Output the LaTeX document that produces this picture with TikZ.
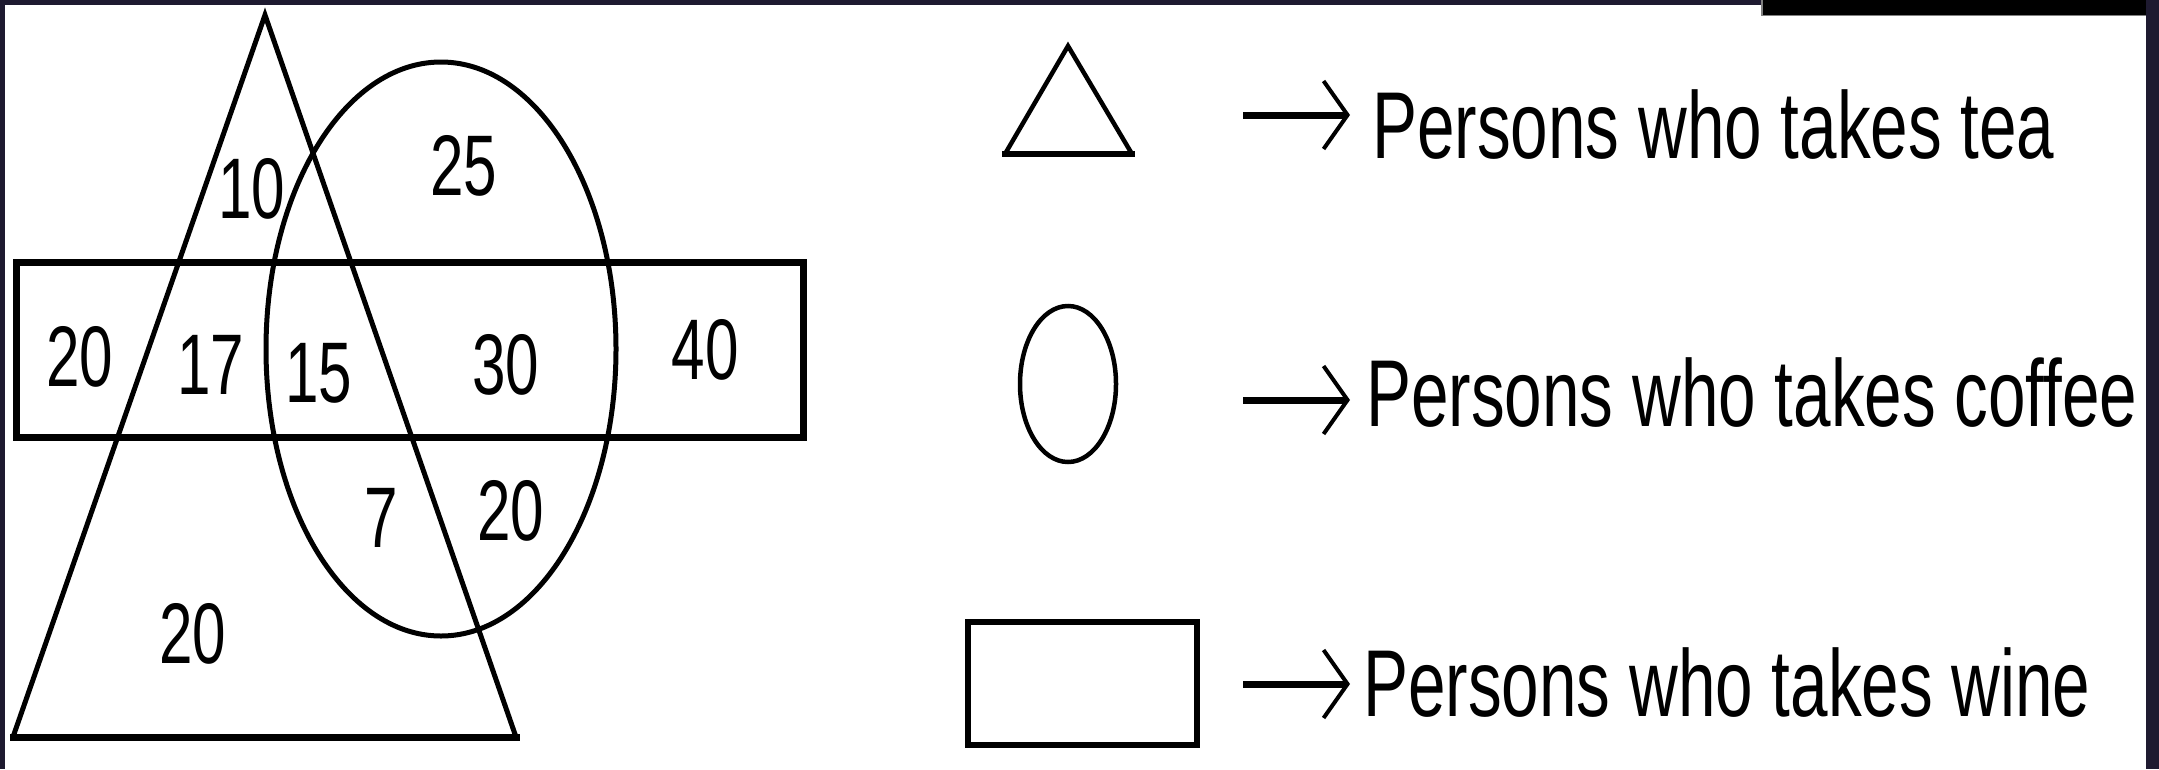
\documentclass[tikz,border=0pt]{standalone}
\usepackage{fontspec}
\setmainfont{Liberation Sans}
\usetikzlibrary{arrows.meta}
\definecolor{navy}{RGB}{30,26,48}
\tikzset{
  thinline/.style={line width=5pt, draw=black},
  thickline/.style={line width=7pt, draw=black},
  num/.style={inner sep=0pt, anchor=center, font=\fontsize{86}{90}\selectfont},
  legtext/.style={inner sep=0pt, anchor=base west, font=\fontsize{95}{100}\selectfont},
  legarrow/.style={line width=7pt, -{Straight Barb[length=24pt,width=68pt,line width=4pt]}},
}
\newcommand{\cond}[1]{\scalebox{0.7}[1]{#1}}
\newcommand{\condt}[1]{\scalebox{0.71}[1]{#1}}
\begin{document}
\begin{tikzpicture}[x=1pt,y=-1pt]
\useasboundingbox (0,0) rectangle (2159,769);
\fill[white] (0,0) rectangle (2159,769);
% frame
\fill[navy] (0,0) rectangle (2159,5);
\fill[navy] (0,0) rectangle (5,769);
\fill[navy] (2146,0) rectangle (2159,769);
\fill[black] (1762,0) rectangle (2146,15);
\draw[gray, line width=1.2pt] (1762,0) -- (1762,15.5) -- (2146,15.5);

% main diagram
\coordinate (tA) at (265,15);
\coordinate (tL) at (13,737);
\coordinate (tR) at (516,737);
\draw[thinline, line join=miter] (tL) -- (tA) -- (tR);
\draw[thickline, line cap=rect] (tL) -- (tR);
\draw[thinline] (441,349) ellipse [x radius=175, y radius=287];
\draw[thickline] (16.5,262) rectangle (803,437.5);

\node[num] (n10) at (252,189) {\cond{10}};
\node[num] (n25) at (464,166) {\cond{25}};
\node[num] (n20a) at (80,357) {\cond{20}};
\node[num] (n17) at (211,365) {\cond{17}};
\node[num] (n15) at (319,373) {\cond{15}};
\node[num] (n30) at (506,365) {\cond{30}};
\node[num] (n40) at (705,350) {\cond{40}};
\node[num] (n7) at (381,518) {\cond{7}};
\node[num] (n20b) at (511,511) {\cond{20}};
\node[num] (n20c) at (193,634) {\cond{20}};

% legend shapes
\draw[line width=4.5pt, line join=miter] (1005,154) -- (1068,46) -- (1132,154);
\draw[line width=6pt, line cap=rect] (1005,154) -- (1132,154);
\draw[line width=4.5pt] (1068,384) ellipse [x radius=48, y radius=78];
\draw[line width=6pt] (967.5,622) rectangle (1197,745);

% legend arrows and texts
\coordinate (s1) at (1243,115);
\coordinate (e1) at (1350,115);
\coordinate (s2) at (1243,400);
\coordinate (e2) at (1350,400);
\coordinate (s3) at (1243,684);
\coordinate (e3) at (1350,684);
\draw[legarrow] (s1) -- (e1);
\draw[legarrow] (s2) -- (e2);
\draw[legarrow] (s3) -- (e3);
\node[legtext] (t1) at (1372,158) {\condt{Persons who takes tea}};
\node[legtext] (t2) at (1366,426) {\condt{Persons who takes coffee}};
\node[legtext] (t3) at (1363,716) {\condt{Persons who takes wine}};
\end{tikzpicture}
\end{document}
